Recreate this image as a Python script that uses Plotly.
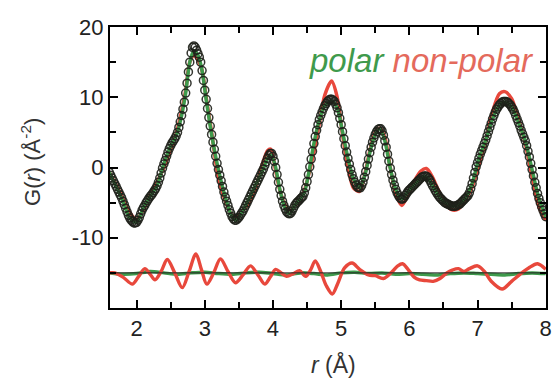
import plotly.graph_objects as go

# ---------------- data ----------------
# observed G(r), r from 1.60 to 8.00 in 0.02 steps
r_obs = [round(1.60 + 0.02 * i, 2) for i in range(321)]
g_obs = [
    -0.7, -1.1, -1.5, -1.9, -2.3, -2.7, -3.1, -3.5, -3.9, -4.3,   # 1.60
    -4.8, -5.3, -5.8, -6.3, -6.8, -7.2, -7.5, -7.7, -7.9, -7.9,   # 1.80
    -7.8, -7.5, -7.1, -6.6, -6.1, -5.7, -5.4, -5.0, -4.7, -4.4,   # 2.00
    -4.1, -3.9, -3.6, -3.3, -3.0, -2.6, -2.1, -1.5, -0.8, -0.1,   # 2.20
    0.5, 1.0, 1.6, 2.2, 2.7, 3.1, 3.5, 3.8, 4.1, 4.5,             # 2.40
    5.0, 5.7, 6.5, 7.4, 8.3, 9.3, 10.6, 12.0, 13.6, 15.0,         # 2.60
    16.3, 17.1, 17.3, 17.1, 16.7, 16.2, 15.7, 15.0, 13.8, 12.4,   # 2.80
    11.0, 9.7, 8.4, 7.1, 5.9, 4.7, 3.6, 2.6, 1.6, 0.6,            # 3.00
    -0.3, -1.1, -1.9, -2.7, -3.5, -4.2, -4.8, -5.4, -6.0, -6.5,   # 3.20
    -7.0, -7.3, -7.5, -7.5, -7.3, -7.1, -6.8, -6.5, -6.2, -5.8,   # 3.40
    -5.4, -5.0, -4.6, -4.2, -3.8, -3.4, -3.0, -2.6, -2.2, -1.8,   # 3.60
    -1.4, -1.0, -0.6, -0.2, 0.3, 0.8, 1.3, 1.7, 2.0, 2.0,         # 3.80
    1.6, 0.9, 0.0, -1.0, -2.1, -3.1, -4.0, -4.8, -5.4, -5.9,      # 4.00
    -6.3, -6.5, -6.6, -6.5, -6.2, -5.8, -5.4, -5.1, -4.9, -4.7,   # 4.20
    -4.5, -4.3, -4.1, -3.6, -2.9, -2.0, -1.0, 0.1, 1.2, 2.3,      # 4.40
    3.4, 4.4, 5.3, 6.1, 6.8, 7.4, 7.9, 8.4, 8.8, 9.1,             # 4.60
    9.4, 9.6, 9.7, 9.7, 9.6, 9.4, 9.0, 8.5, 7.8, 7.0,             # 4.80
    6.1, 5.1, 4.1, 3.1, 2.2, 1.3, 0.5, -0.3, -1.0, -1.6,          # 5.00
    -2.1, -2.5, -2.8, -2.9, -2.9, -2.6, -2.1, -1.4, -0.6, 0.3,    # 5.20
    1.2, 2.1, 2.9, 3.6, 4.2, 4.7, 5.1, 5.4, 5.5, 5.5,             # 5.40
    5.2, 4.6, 3.8, 2.9, 1.9, 0.9, -0.1, -1.0, -1.8, -2.5,         # 5.60
    -3.1, -3.6, -4.0, -4.3, -4.5, -4.5, -4.3, -4.0, -3.7, -3.4,   # 5.80
    -3.2, -3.0, -2.8, -2.6, -2.4, -2.2, -2.0, -1.8, -1.6, -1.4,   # 6.00
    -1.3, -1.2, -1.2, -1.3, -1.5, -1.8, -2.2, -2.6, -2.9, -3.3,   # 6.20
    -3.6, -3.9, -4.2, -4.4, -4.6, -4.8, -5.0, -5.1, -5.2, -5.3,   # 6.40
    -5.4, -5.5, -5.5, -5.5, -5.5, -5.4, -5.3, -5.2, -5.0, -4.8,   # 6.60
    -4.6, -4.4, -4.2, -4.0, -3.6, -3.0, -2.3, -1.5, -0.7, 0.1,    # 6.80
    0.7, 1.3, 1.9, 2.4, 2.9, 3.4, 3.9, 4.5, 5.1, 5.7,             # 7.00
    6.3, 6.9, 7.4, 7.9, 8.3, 8.6, 8.9, 9.1, 9.3, 9.4,             # 7.20
    9.4, 9.4, 9.3, 9.1, 8.9, 8.6, 8.3, 7.9, 7.4, 6.9,             # 7.40
    6.4, 5.9, 5.3, 4.8, 4.3, 3.8, 3.1, 2.3, 1.5, 0.6,             # 7.60
    -0.3, -1.2, -2.1, -2.9, -3.7, -4.4, -5.0, -5.6, -6.1, -6.6,   # 7.80
    -7.0,                                                          # 8.00
]

# fitted curves (key points, drawn as smooth splines)
r_fit = [1.60, 1.70, 1.80, 1.90, 2.00, 2.10, 2.20, 2.30, 2.40, 2.50, 2.58, 2.66,
         2.72, 2.78, 2.84, 2.90, 2.96, 3.02, 3.10, 3.20, 3.30, 3.40, 3.46, 3.55,
         3.65, 3.75, 3.85, 3.92, 3.97, 4.03, 4.10, 4.17, 4.24, 4.32, 4.40, 4.46,
         4.52, 4.60, 4.68, 4.76, 4.86, 4.94, 5.02, 5.10, 5.18, 5.27, 5.35, 5.43,
         5.50, 5.57, 5.64, 5.72, 5.80, 5.89, 5.98, 6.08, 6.17, 6.25, 6.33, 6.42,
         6.52, 6.62, 6.72, 6.82, 6.92, 7.02, 7.12, 7.22, 7.32, 7.40, 7.50, 7.60,
         7.70, 7.80, 7.90, 8.00]
g_polar = [-0.7, -2.7, -4.8, -7.2, -7.8, -5.7, -4.1, -2.6, 0.5, 3.1, 4.5, 7.4,
           10.6, 15.0, 16.6, 16.0, 13.8, 9.7, 4.7, -0.3, -4.2, -7.0, -7.5, -6.3,
           -4.4, -2.4, -0.4, 1.3, 1.8, 0.4, -3.1, -5.6, -6.6, -5.4, -4.5, -3.6,
           -1.0, 3.4, 6.8, 8.8, 9.5, 8.5, 5.1, 1.3, -1.6, -2.9, -1.0, 2.5,
           4.7, 5.5, 3.8, -0.1, -3.1, -4.5, -3.4, -2.4, -1.5, -1.3, -2.4, -3.9,
           -5.0, -5.5, -5.3, -4.4, -2.3, 1.3, 3.9, 6.9, 8.9, 9.3, 8.6, 6.4,
           3.8, -0.3, -4.4, -7.0]
g_nonpolar = [-0.7, -2.5, -4.4, -6.4, -7.4, -6.0, -3.9, -2.1, 0.0, 2.6, 4.8, 8.0,
              11.0, 15.0, 15.9, 15.3, 13.8, 10.0, 5.0, -1.5, -4.7, -6.8, -7.2, -6.2,
              -5.0, -2.7, 0.6, 2.4, 2.6, 0.0, -3.2, -5.2, -6.3, -5.4, -4.7, -3.3,
              -1.2, 2.2, 6.3, 10.3, 12.3, 10.1, 4.7, 0.1, -2.9, -3.4, -0.8, 2.8,
              5.0, 5.6, 4.3, 0.0, -3.7, -5.4, -3.9, -1.8, -0.5, -0.15, -1.2, -3.1,
              -5.0, -6.0, -5.9, -4.6, -2.8, 0.4, 3.8, 7.9, 10.5, 10.8, 9.8, 6.9,
              3.4, -1.3, -5.6, -7.5]

# difference curves (offset to the -15 baseline)
baseline = -15.0
r_res_polar = [1.6, 1.8, 2.0, 2.2, 2.4, 2.6, 2.8, 3.0, 3.2, 3.4, 3.6, 3.8, 4.0,
               4.2, 4.4, 4.6, 4.8, 5.0, 5.2, 5.4, 5.6, 5.8, 6.0, 6.2, 6.4, 6.6,
               6.8, 7.0, 7.2, 7.4, 7.6, 7.8, 8.0]
g_res_polar = [-15.0, -15.2, -15.1, -14.8, -15.0, -15.2, -15.0, -14.9, -15.1,
               -15.2, -15.0, -14.9, -15.1, -15.3, -15.0, -15.1, -15.3, -15.0,
               -14.9, -15.1, -15.0, -15.2, -15.1, -15.2, -15.3, -15.1, -15.0,
               -15.1, -15.2, -15.3, -15.1, -15.0, -15.1]
r_res_nonpolar = [1.60, 1.68, 1.80, 1.94, 2.03, 2.12, 2.20, 2.27, 2.36, 2.45, 2.56,
                  2.67, 2.77, 2.87, 2.95, 3.03, 3.13, 3.23, 3.34, 3.45, 3.56, 3.67,
                  3.78, 3.88, 3.96, 4.04, 4.12, 4.20, 4.30, 4.39, 4.48, 4.55, 4.62,
                  4.70, 4.78, 4.87, 4.95, 5.05, 5.16, 5.27, 5.40, 5.50, 5.62, 5.75,
                  5.83, 5.90, 5.98, 6.07, 6.15, 6.25, 6.35, 6.45, 6.55, 6.63, 6.72,
                  6.80, 6.88, 7.00, 7.10, 7.20, 7.36, 7.50, 7.65, 7.75, 7.88, 8.00]
g_res_nonpolar = [-15.0, -15.0, -15.6, -16.6, -15.5, -14.4, -15.2, -16.0, -14.8,
                  -13.1, -15.0, -17.1, -14.8, -12.3, -14.5, -16.6, -15.0, -13.0,
                  -14.8, -16.4, -15.3, -14.0, -15.3, -16.6, -15.6, -14.5, -15.0,
                  -15.5, -15.1, -14.7, -15.5, -14.6, -13.3, -14.8, -16.8, -18.0,
                  -16.5, -14.3, -13.6, -14.5, -15.3, -15.4, -15.8, -14.8, -14.0,
                  -13.7, -14.5, -15.6, -16.0, -16.1, -16.2, -15.8, -15.0, -14.6,
                  -14.4, -14.8, -14.4, -14.0, -14.8, -16.2, -17.3, -16.2, -15.0,
                  -14.3, -13.7, -14.5]

x_ticks = [2, 3, 4, 5, 6, 7, 8]
y_ticks = [-10, 0, 10, 20]
y_tick_labels = ["-10", "0", "10", "20"]
x_range = [1.61, 8.004]
y_range = [-20, 20]

GREEN = "#3f9a4c"
RED = "#e8483c"
FONT = "Liberation Sans, Arial"

fig = go.Figure()
fig.add_trace(go.Scatter(x=r_fit, y=g_nonpolar, mode="lines",
                         line=dict(color=RED, width=3.5, shape="spline", smoothing=0.8)))
fig.add_trace(go.Scatter(x=r_fit, y=g_polar, mode="lines",
                         line=dict(color=GREEN, width=3.5, shape="spline", smoothing=0.8)))
fig.add_trace(go.Scatter(x=r_obs, y=g_obs, mode="markers",
                         marker=dict(symbol="circle-open", size=8,
                                     color="rgba(30,32,25,0.9)", line=dict(width=1.5))))
fig.add_trace(go.Scatter(x=r_res_polar, y=g_res_polar, mode="lines",
                         line=dict(color=GREEN, width=3.5, shape="spline", smoothing=0.8)))
fig.add_trace(go.Scatter(x=r_res_nonpolar, y=g_res_nonpolar, mode="lines",
                         line=dict(color=RED, width=3.4, shape="spline", smoothing=0.9)))
fig.add_trace(go.Scatter(x=[r_obs[0], r_obs[-1]], y=[baseline, baseline], mode="lines",
                         line=dict(color="#222222", width=1)))

axis_common = dict(showline=True, linecolor="black", linewidth=2, mirror="allticks",
                   ticks="inside", ticklen=8, tickwidth=2, tickcolor="black",
                   showgrid=False, zeroline=False, ticklabeloverflow="allow",
                   tickfont=dict(family=FONT, size=22, color="#222"))
fig.update_xaxes(range=x_range, tickvals=x_ticks, **axis_common,
                 minor=dict(dtick=0.5, ticks="inside", ticklen=6, tickwidth=2,
                            tickcolor="black", showgrid=False))
fig.update_yaxes(range=y_range, tickvals=y_ticks, ticktext=y_tick_labels,
                 ticklabelstandoff=0, **axis_common,
                 minor=dict(dtick=5, ticks="inside", ticklen=6, tickwidth=2,
                            tickcolor="black", showgrid=False))

fig.update_layout(
    width=555, height=379,
    margin=dict(l=110, r=3, t=27, b=71),
    paper_bgcolor="white", plot_bgcolor="white",
    showlegend=False, hovermode=False,
    annotations=[
        dict(text="<i><span style='color:%s'>polar</span> <span style='color:%s'>non-polar</span></i>" % (GREEN, "#e46a5c"),
             x=0.4526, y=0.88, xref="paper", yref="paper", xanchor="left", yanchor="middle",
             showarrow=False, font=dict(family=FONT, size=33)),
        dict(text="G(<i>r</i>) (Å<sup>-2</sup>)", x=-0.181, y=0.52, xref="paper", yref="paper",
             textangle=-90, showarrow=False, xanchor="center", yanchor="middle",
             font=dict(family=FONT, size=22, color="#333")),
        dict(text="<i>r</i> (Å)", x=0.513, y=-0.2, xref="paper", yref="paper",
             showarrow=False, xanchor="center", yanchor="middle",
             font=dict(family=FONT, size=23, color="#333")),
    ],
)

# remove the default page margin so the figure fills the 555x379 window exactly
fig.write_html("out.html", config={"displayModeBar": False},
               post_script="document.body.style.margin='0';")
